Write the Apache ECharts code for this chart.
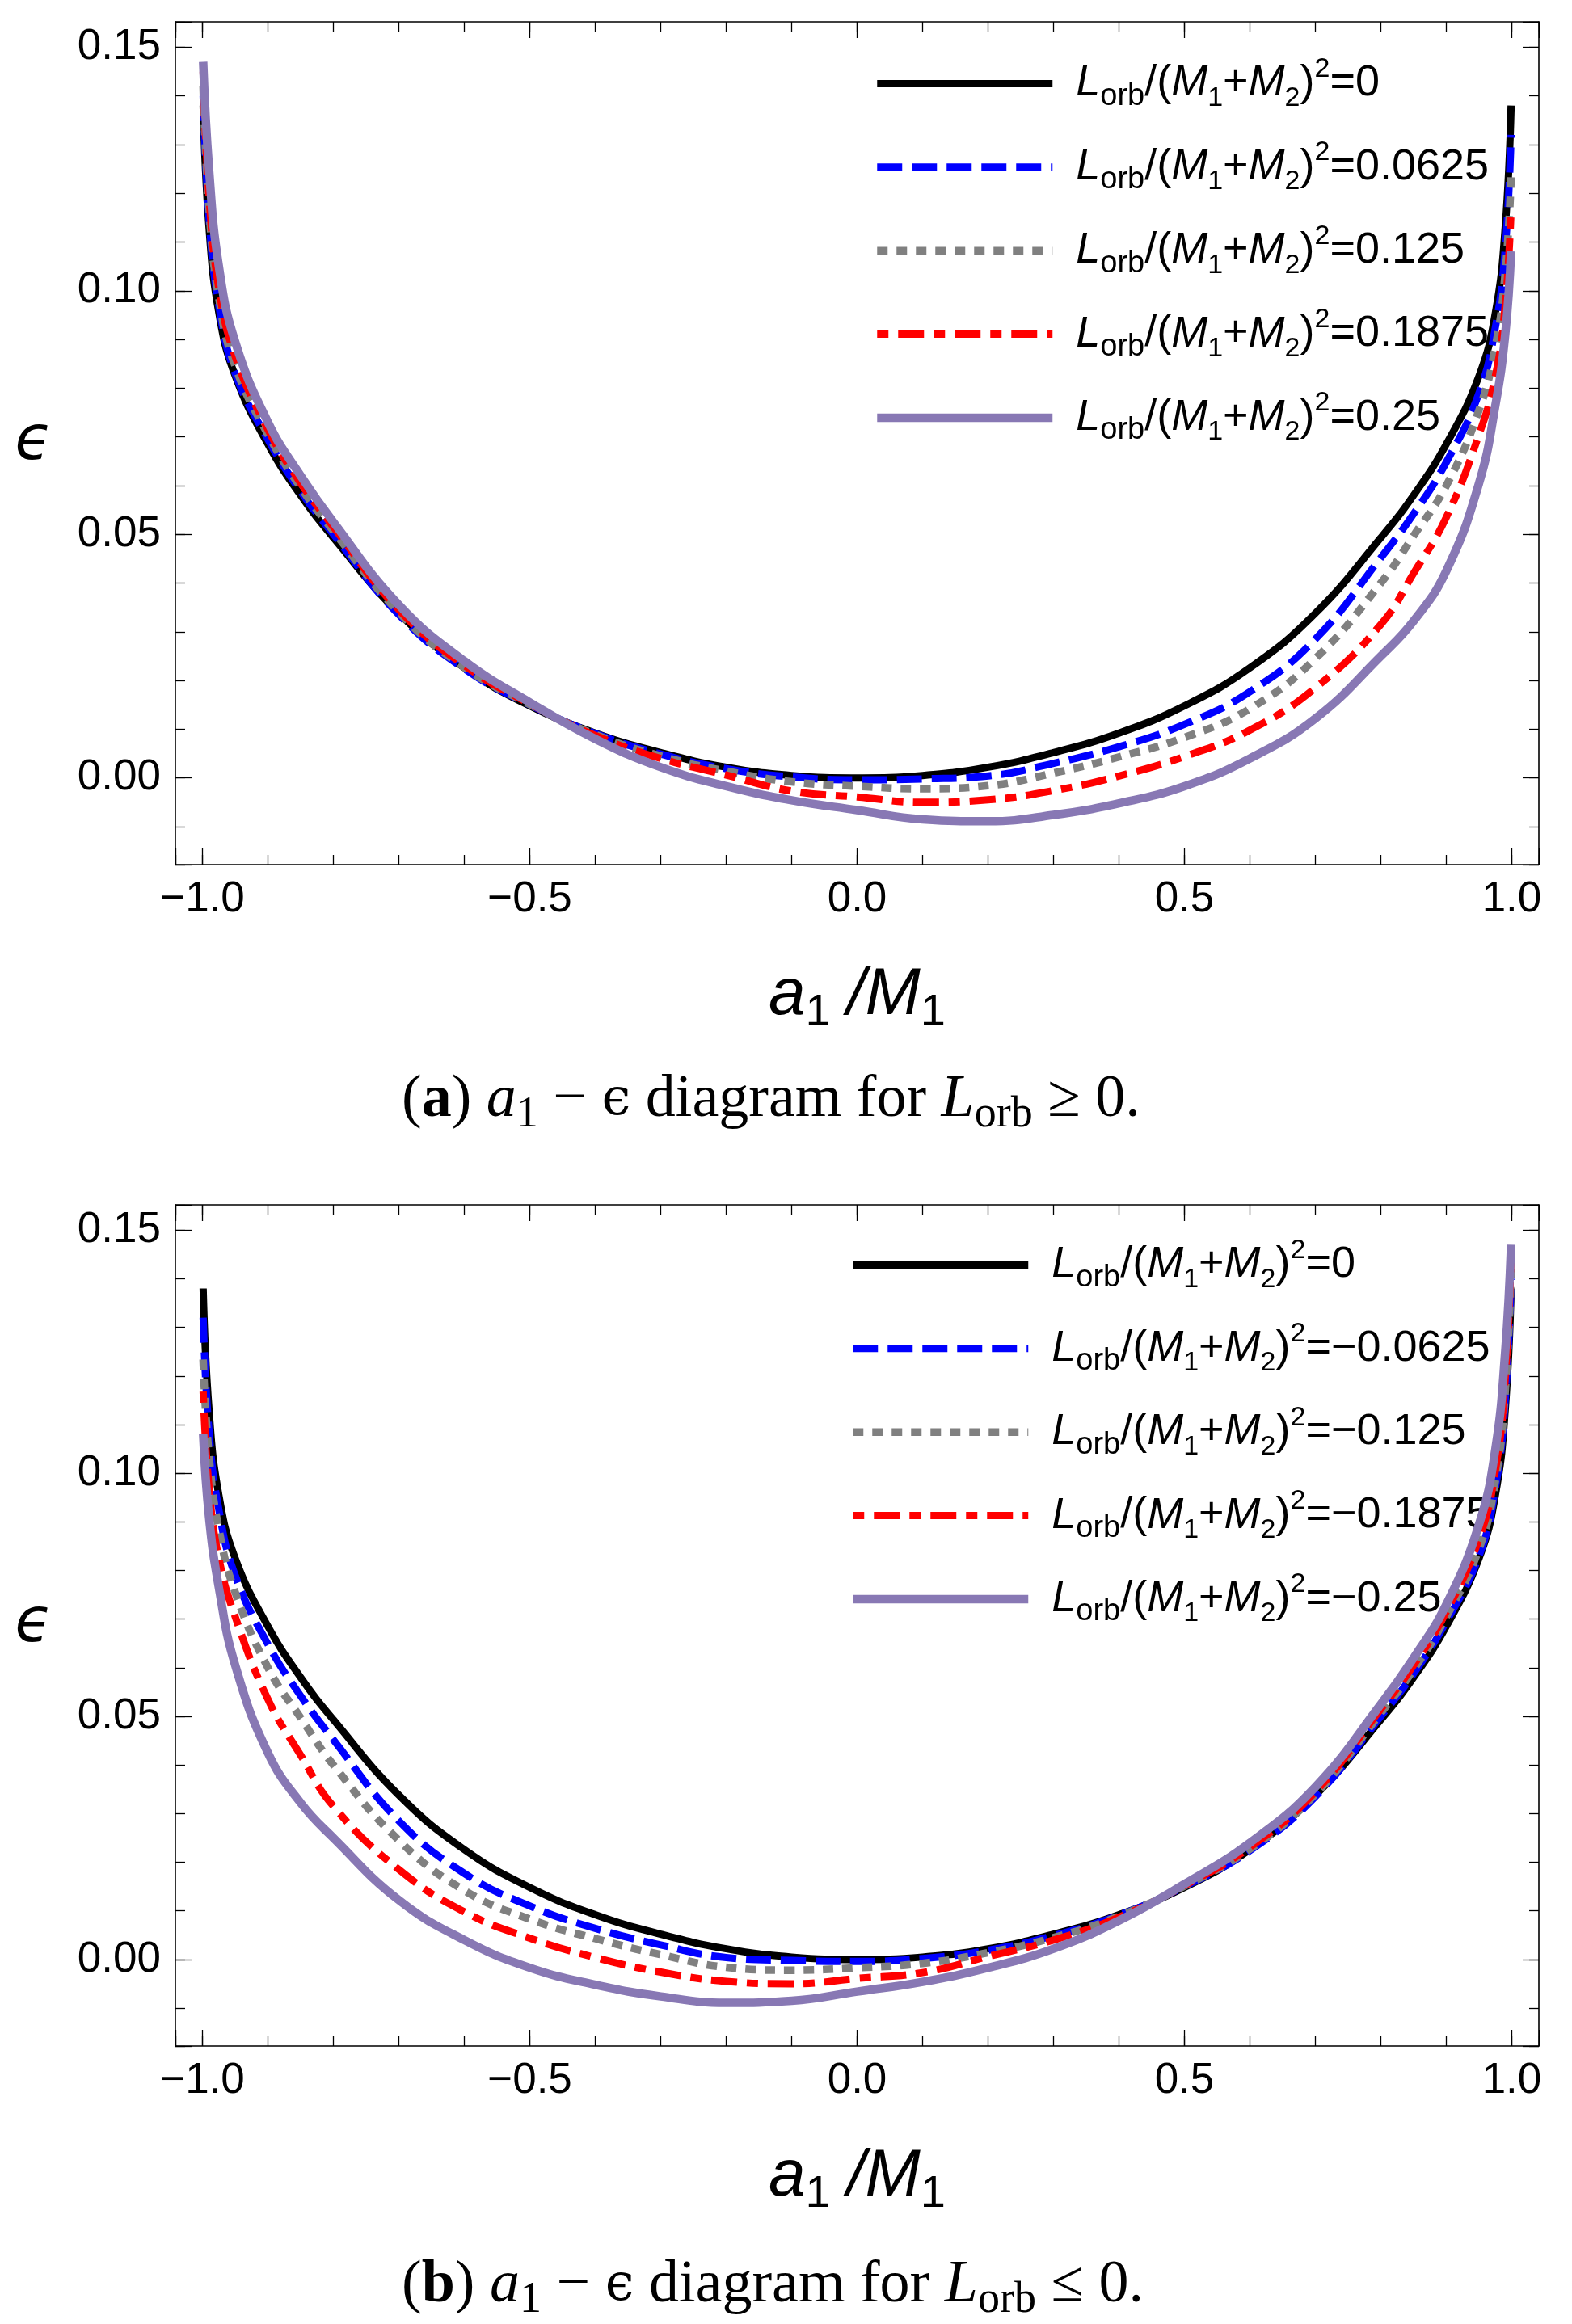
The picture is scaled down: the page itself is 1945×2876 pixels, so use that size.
<!DOCTYPE html>
<html>
<head>
<meta charset="utf-8">
<script src="https://cdn.jsdelivr.net/npm/echarts@6/dist/echarts.min.js"></script>
<style>
  html, body { margin: 0; padding: 0; background: #fff; }
  #chart { width: 1945px; height: 2876px; }
</style>
</head>
<body>
<div id="chart"></div>
<script>
// ---------------- data ----------------
const spinValues = [-0.999, -0.99, -0.975, -0.95, -0.9, -0.85, -0.8, -0.7, -0.6, -0.5, -0.4, -0.3, -0.2, -0.1, 0,
                    0.1, 0.2, 0.3, 0.4, 0.5, 0.6, 0.7, 0.8, 0.85, 0.9, 0.95, 0.975, 0.99, 0.999];

// panel (a): L_orb >= 0
const labelsA = ['0', '0.0625', '0.125', '0.1875', '0.25'];
const epsA_0      = [0.138, 0.113, 0.0955, 0.0825, 0.0685, 0.058, 0.0493, 0.0338, 0.0226, 0.0148, 0.0092, 0.0052, 0.0022, 0.0005, 0, 0.0005, 0.0022, 0.0052, 0.0092, 0.0148, 0.0226, 0.0338, 0.0493, 0.058, 0.0685, 0.0825, 0.0955, 0.113, 0.138];
const epsA_0625   = [0.140, 0.115, 0.097, 0.083, 0.0695, 0.0588, 0.050, 0.0335, 0.0224, 0.0150, 0.0091, 0.0049, 0.0019, 0.0002, -0.0004, -0.0002, 0.0004, 0.0030, 0.0064, 0.0110, 0.0177, 0.0285, 0.0452, 0.0542, 0.0648, 0.0790, 0.0925, 0.1085, 0.132];
const epsA_125    = [0.142, 0.117, 0.0985, 0.0845, 0.0705, 0.0596, 0.0507, 0.034, 0.0227, 0.0151, 0.0089, 0.0045, 0.0014, -0.0008, -0.0017, -0.0022, -0.0016, 0.0010, 0.0043, 0.0083, 0.0142, 0.0245, 0.0400, 0.0497, 0.0600, 0.0755, 0.0885, 0.1035, 0.1234];
const epsA_1875   = [0.145, 0.1195, 0.1005, 0.0865, 0.0715, 0.0605, 0.0515, 0.0345, 0.0231, 0.0152, 0.0087, 0.0040, 0.0006, -0.0027, -0.0039, -0.0050, -0.0045, -0.0026, 0.0004, 0.0044, 0.0098, 0.0185, 0.0315, 0.0420, 0.0535, 0.0705, 0.0825, 0.097, 0.1168];
const epsA_25     = [0.147, 0.125, 0.105, 0.0895, 0.0730, 0.0620, 0.0525, 0.0355, 0.0240, 0.0155, 0.0080, 0.0022, -0.0017, -0.0046, -0.0066, -0.0085, -0.0089, -0.0076, -0.0052, -0.0017, 0.0040, 0.0122, 0.0250, 0.0322, 0.0425, 0.0605, 0.0765, 0.091, 0.1081];

// panel (b): L_orb <= 0
const labelsB = ['0', '\u22120.0625', '\u22120.125', '\u22120.1875', '\u22120.25'];
const epsB_0      = [0.138, 0.113, 0.0955, 0.0825, 0.0685, 0.058, 0.0493, 0.0338, 0.0226, 0.0148, 0.0092, 0.0052, 0.0022, 0.0005, 0, 0.0005, 0.0022, 0.0052, 0.0092, 0.0148, 0.0226, 0.0338, 0.0493, 0.058, 0.0685, 0.0825, 0.0955, 0.113, 0.138];
const epsB_0625   = [0.132, 0.1085, 0.0925, 0.0790, 0.0648, 0.0542, 0.0452, 0.0285, 0.0177, 0.0110, 0.0064, 0.0030, 0.0004, -0.0002, -0.0004, 0.0002, 0.0019, 0.0049, 0.0091, 0.0150, 0.0224, 0.0335, 0.050, 0.0588, 0.0695, 0.083, 0.097, 0.115, 0.140];
const epsB_125    = [0.1234, 0.1035, 0.0885, 0.0755, 0.0600, 0.0497, 0.0400, 0.0245, 0.0142, 0.0083, 0.0043, 0.0010, -0.0016, -0.0022, -0.0017, -0.0008, 0.0014, 0.0045, 0.0089, 0.0151, 0.0227, 0.034, 0.0507, 0.0596, 0.0705, 0.0845, 0.0985, 0.117, 0.142];
const epsB_1875   = [0.1168, 0.097, 0.0825, 0.0705, 0.0535, 0.0420, 0.0315, 0.0185, 0.0098, 0.0044, 0.0004, -0.0026, -0.0045, -0.0050, -0.0039, -0.0027, 0.0006, 0.0040, 0.0087, 0.0152, 0.0231, 0.0345, 0.0515, 0.0605, 0.0715, 0.0865, 0.1005, 0.1195, 0.145];
const epsB_25     = [0.1081, 0.091, 0.0765, 0.0605, 0.0425, 0.0322, 0.0250, 0.0122, 0.0040, -0.0017, -0.0052, -0.0076, -0.0089, -0.0085, -0.0066, -0.0046, -0.0017, 0.0022, 0.0080, 0.0155, 0.0240, 0.0355, 0.0525, 0.0620, 0.0730, 0.0895, 0.105, 0.125, 0.147];

const xTickValues = [-1.0, -0.5, 0.0, 0.5, 1.0];
const yTickValues = [0.00, 0.05, 0.10, 0.15];

// ---------------- styling ----------------
const xMin = -1.0414, xMax = 1.0414, yMin = -0.0178, yMax = 0.1552;
const seriesStyles = [
  { color: '#000000', width: 9,    type: 'solid' },
  { color: '#0000ff', width: 9,    type: [31, 12] },
  { color: '#808080', width: 9.5,  type: [13, 11] },
  { color: '#ff0000', width: 9,    type: [14, 12, 32, 12] },
  { color: '#8878b4', width: 10.5, type: 'solid' }
];
const SANS = "'Liberation Sans', Arial, Helvetica, sans-serif";
const SERIF = "'Liberation Serif', 'DejaVu Serif', serif";

function fmtNum(v, d) {
  const s = Math.abs(v).toFixed(d);
  return (v < -1e-9 ? '\u2212' : '') + s;
}
function onTick(v, list) { return list.some(t => Math.abs(t - v) < 1e-6); }

const tickLine = { color: '#000', width: 1.3 };
function xAxesFor(g) {
  const base = { type: 'value', gridIndex: g, min: xMin, max: xMax, splitLine: { show: false } };
  return [
    Object.assign({}, base, {
      position: 'bottom', minInterval: 0.5, maxInterval: 0.5,
      axisLine: { show: true, onZero: false, lineStyle: { color: '#000', width: 1.6 } },
      axisTick: { show: true, inside: true, length: 20, lineStyle: tickLine },
      axisLabel: { show: true, margin: 17, color: '#000', fontFamily: SANS, fontSize: 53,
        formatter: v => onTick(v, xTickValues) ? fmtNum(v, 1) : '' },
      name: '{i|a}{s|1}{n|/}{i|M}{s|1}', nameLocation: 'middle', nameGap: 112,
      nameTextStyle: { color: '#000', fontFamily: SANS, fontSize: 82, lineHeight: 100,
        rich: {
          i: { fontFamily: SANS, fontStyle: 'italic', fontSize: 82, lineHeight: 100 },
          s: { fontFamily: SANS, fontSize: 56, lineHeight: 54, verticalAlign: 'bottom' },
          n: { fontFamily: SANS, fontStyle: 'italic', fontSize: 82, lineHeight: 100, padding: [0, 0, 0, 20] }
        } }
    }),
    Object.assign({}, base, {
      position: 'bottom', minInterval: 0.1, maxInterval: 0.1,
      axisLine: { show: false, onZero: false },
      axisTick: { show: true, inside: true, length: 12, lineStyle: tickLine },
      axisLabel: { show: false }
    }),
    Object.assign({}, base, {
      position: 'top', minInterval: 0.5, maxInterval: 0.5,
      axisLine: { show: true, onZero: false, lineStyle: { color: '#000', width: 1.6 } },
      axisTick: { show: true, inside: true, length: 20, lineStyle: tickLine },
      axisLabel: { show: false }
    }),
    Object.assign({}, base, {
      position: 'top', minInterval: 0.1, maxInterval: 0.1,
      axisLine: { show: false, onZero: false },
      axisTick: { show: true, inside: true, length: 12, lineStyle: tickLine },
      axisLabel: { show: false }
    })
  ];
}
function yAxesFor(g) {
  const base = { type: 'value', gridIndex: g, min: yMin, max: yMax, splitLine: { show: false } };
  return [
    Object.assign({}, base, {
      position: 'left', minInterval: 0.05, maxInterval: 0.05,
      axisLine: { show: true, onZero: false, lineStyle: { color: '#000', width: 1.6 } },
      axisTick: { show: true, inside: true, length: 20, lineStyle: tickLine },
      axisLabel: { show: true, margin: 18, color: '#000', fontFamily: SANS, fontSize: 53,
        formatter: v => onTick(v, yTickValues) ? fmtNum(v, 2) : '' },
      name: '\u03F5', nameLocation: 'middle', nameRotate: 0, nameGap: 152,
      nameTextStyle: { color: '#000', fontFamily: "'DejaVu Sans', sans-serif", fontStyle: 'italic',
        fontSize: 76, padding: [16, 0, 0, 0] }
    }),
    Object.assign({}, base, {
      position: 'left', minInterval: 0.01, maxInterval: 0.01,
      axisLine: { show: false, onZero: false },
      axisTick: { show: true, inside: true, length: 12, lineStyle: tickLine },
      axisLabel: { show: false }
    }),
    Object.assign({}, base, {
      position: 'right', minInterval: 0.05, maxInterval: 0.05,
      axisLine: { show: true, onZero: false, lineStyle: { color: '#000', width: 1.6 } },
      axisTick: { show: true, inside: true, length: 20, lineStyle: tickLine },
      axisLabel: { show: false }
    }),
    Object.assign({}, base, {
      position: 'right', minInterval: 0.01, maxInterval: 0.01,
      axisLine: { show: false, onZero: false },
      axisTick: { show: true, inside: true, length: 12, lineStyle: tickLine },
      axisLabel: { show: false }
    })
  ];
}

const panelA = [epsA_0, epsA_0625, epsA_125, epsA_1875, epsA_25];
const panelB = [epsB_0, epsB_0625, epsB_125, epsB_1875, epsB_25];

function seriesName(panel, lab) { return panel + ': Lorb/(M1+M2)^2=' + lab; }
function richLabel(lab) {
  return '{L|L}{o|orb}{n|/(}{M|M}{d|1}{n|+}{M|M}{d|2}{n|)}{p|2}{n|=' + lab + '}';
}
const legendRich = {
  L: { fontFamily: SANS, fontStyle: 'italic', fontSize: 54, lineHeight: 70, padding: [0, 0, 0, 24] },
  o: { fontFamily: SANS, fontSize: 38, lineHeight: 59, verticalAlign: 'bottom' },
  n: { fontFamily: SANS, fontSize: 54, lineHeight: 70 },
  M: { fontFamily: SANS, fontStyle: 'italic', fontSize: 54, lineHeight: 70 },
  d: { fontFamily: SANS, fontSize: 34, lineHeight: 40, verticalAlign: 'bottom' },
  p: { fontFamily: SANS, fontSize: 34, lineHeight: 41, verticalAlign: 'top' }
};
const nameMap = {};
const series = [];
[['a', panelA, labelsA, 0], ['b', panelB, labelsB, 1]].forEach(([pn, arrs, labs, g]) => {
  arrs.forEach((arr, k) => {
    const nm = seriesName(pn, labs[k]);
    nameMap[nm] = richLabel(labs[k]);
    const st = seriesStyles[k];
    series.push({
      type: 'line', name: nm, xAxisIndex: g * 4, yAxisIndex: g * 4,
      data: spinValues.map((a, i) => [a, arr[i]]),
      symbol: 'none', showSymbol: false, smooth: 0.45,
      lineStyle: { color: st.color, width: st.width, type: st.type, cap: 'butt', join: 'round' },
      itemStyle: { color: st.color },
      z: 3, animation: false
    });
  });
});

function legendFor(pn, labs, left, top) {
  return {
    orient: 'vertical', left: left, top: top, padding: 0,
    itemWidth: 217, itemHeight: 14, itemGap: 33.4, z: 1,
    selectedMode: false,
    itemStyle: { color: 'rgba(0,0,0,0)', borderWidth: 0, opacity: 0 },
    data: labs.map((l, k) => ({
      name: seriesName(pn, l),
      lineStyle: { width: seriesStyles[k].width, type: seriesStyles[k].type, color: seriesStyles[k].color, cap: 'butt' }
    })),
    formatter: name => nameMap[name],
    textStyle: { color: '#000', fontFamily: SANS, fontSize: 54, rich: legendRich }
  };
}

function caption(letter, rel, y) {
  return {
    type: 'text', left: 497, top: y,
    style: {
      text: '{p|(}{b|' + letter + '}{p|) }{i|a}{s|1}{p| \u2212 }{e|\u03F5}{p| diagram for }{i|L}{s|orb}{p| ' + rel + ' 0.}',
      fill: '#000',
      rich: {
        p: { fontFamily: SERIF, fontSize: 74, lineHeight: 90, fill: '#000' },
        b: { fontFamily: SERIF, fontWeight: 'bold', fontSize: 74, lineHeight: 90, fill: '#000' },
        i: { fontFamily: SERIF, fontStyle: 'italic', fontSize: 74, lineHeight: 90, fill: '#000' },
        e: { fontFamily: "'DejaVu Serif', serif", fontSize: 64, lineHeight: 90, fill: '#000' },
        s: { fontFamily: SERIF, fontSize: 54, lineHeight: 56, verticalAlign: 'bottom', fill: '#000' }
      }
    }
  };
}

const chart = echarts.init(document.getElementById('chart'), null, { renderer: 'canvas' });
chart.setOption({
  backgroundColor: '#ffffff',
  animation: false,
  grid: [
    { left: 217, top: 27, width: 1687, height: 1043, containLabel: false },
    { left: 217, top: 1491, width: 1687, height: 1041, containLabel: false }
  ],
  xAxis: xAxesFor(0).concat(xAxesFor(1)),
  yAxis: yAxesFor(0).concat(yAxesFor(1)),
  legend: [legendFor('a', labelsA, 1080, 68.4), legendFor('b', labelsB, 1050, 1530.4)],
  series: series,
  graphic: [caption('a', '\u2265', 1325), caption('b', '\u2264', 2792)]
});
</script>
</body>
</html>
